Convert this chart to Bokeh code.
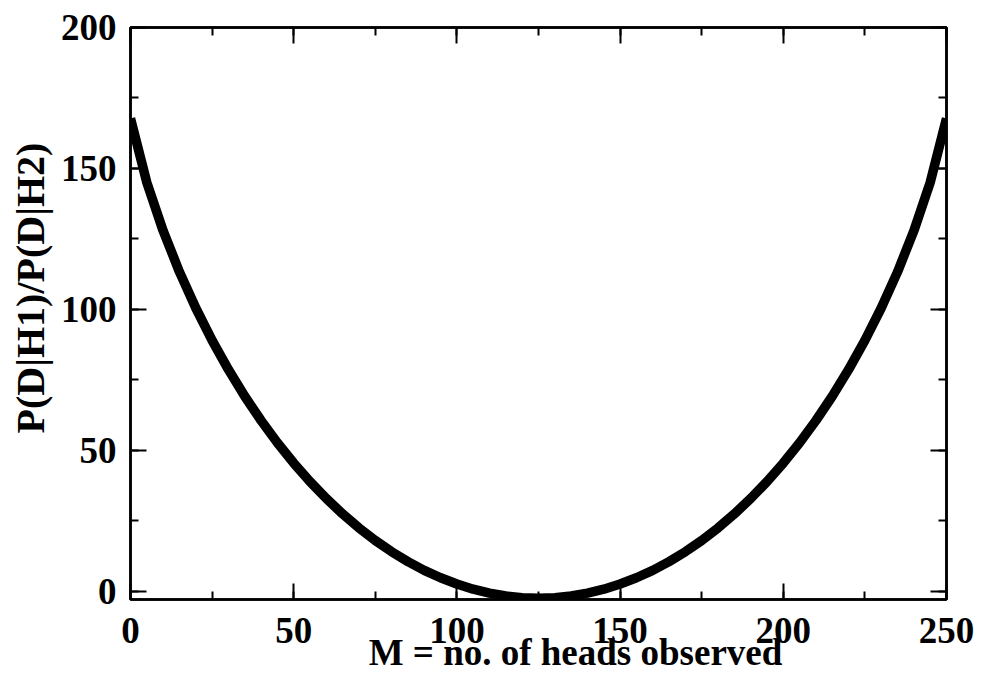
from bokeh.plotting import figure
from bokeh.models import Range1d, SingleIntervalTicker, LinearAxis, Title
from bokeh.embed import file_html
from bokeh.resources import INLINE

# M = number of heads observed
heads = [0, 5, 10, 15, 20, 25, 30, 35, 40, 45, 50, 55, 60, 65, 70, 75, 80, 85, 90, 95,
         100, 105, 110, 115, 120, 125, 130, 135, 140, 145, 150, 155, 160, 165, 170, 175,
         180, 185, 190, 195, 200, 205, 210, 215, 220, 225, 230, 235, 240, 245, 250]
# P(D|H1)/P(D|H2) values
ratio = [167.76, 144.98, 127.83, 113.27, 100.45, 88.97, 78.59, 69.14, 60.52, 52.64,
         45.43, 38.84, 32.82, 27.36, 22.40, 17.95, 13.96, 10.44, 7.35, 4.70,
         2.48, 0.66, -0.74, -1.74, -2.34, -2.54, -2.34, -1.74, -0.74, 0.66,
         2.48, 4.70, 7.35, 10.44, 13.96, 17.95, 22.40, 27.36, 32.82, 38.84,
         45.43, 52.64, 60.52, 69.14, 78.59, 88.97, 100.45, 113.27, 127.83, 144.98, 167.76]

x_title = "M = no. of heads observed"
y_title = "P(D|H1)/P(D|H2)"

FONT = "Liberation Serif"

p = figure(width=995, height=676, output_backend="svg", toolbar_location=None,
           x_range=Range1d(0, 250), y_range=Range1d(-3, 200),
           x_axis_location=None, y_axis_location=None,
           min_border_left=130, min_border_right=49, min_border_top=27, min_border_bottom=77)
p.grid.visible = False
p.outline_line_color = "black"
p.outline_line_width = 2.5
p.background_fill_color = "white"
p.border_fill_color = "white"


def style(ax, labels=True):
    ax.axis_line_color = "black"
    ax.axis_line_width = 2.5
    ax.major_tick_in = 16
    ax.major_tick_out = 0
    ax.minor_tick_in = 8
    ax.minor_tick_out = 0
    ax.major_tick_line_width = 2
    ax.minor_tick_line_width = 2
    ax.major_label_text_font = FONT
    ax.major_label_text_font_style = "bold"
    if labels:
        ax.major_label_text_color = "black"
        ax.major_label_text_font_size = "37px"
    else:
        ax.major_label_text_color = None
        ax.major_label_text_font_size = "1px"
        ax.major_label_standoff = 0


xb = LinearAxis(ticker=SingleIntervalTicker(interval=50, num_minor_ticks=2))
style(xb)
xb.major_label_standoff = 18
xb.axis_label = "\u00a0" * 8 + x_title
xb.axis_label_text_font = FONT
xb.axis_label_text_font_style = "bold"
xb.axis_label_text_font_size = "37px"
xb.axis_label_text_color = "black"
xb.axis_label_standoff = -14
p.add_layout(xb, "below")

xa = LinearAxis(ticker=SingleIntervalTicker(interval=50, num_minor_ticks=2))
style(xa, labels=False)
p.add_layout(xa, "above")

yl = LinearAxis(ticker=SingleIntervalTicker(interval=50, num_minor_ticks=2))
style(yl)
yl.major_label_standoff = 14
p.add_layout(yl, "left")

yr = LinearAxis(ticker=SingleIntervalTicker(interval=50, num_minor_ticks=2))
style(yr, labels=False)
p.add_layout(yr, "right")

p.line(heads, ratio, line_color="black", line_width=9.5)

yt = Title(text=y_title, align="left", offset=166, vertical_align="bottom", standoff=10,
           text_font=FONT, text_font_style="bold", text_font_size="40px", text_color="black")
p.add_layout(yt, "left")

open("out.html", "w").write(file_html(p, INLINE))
